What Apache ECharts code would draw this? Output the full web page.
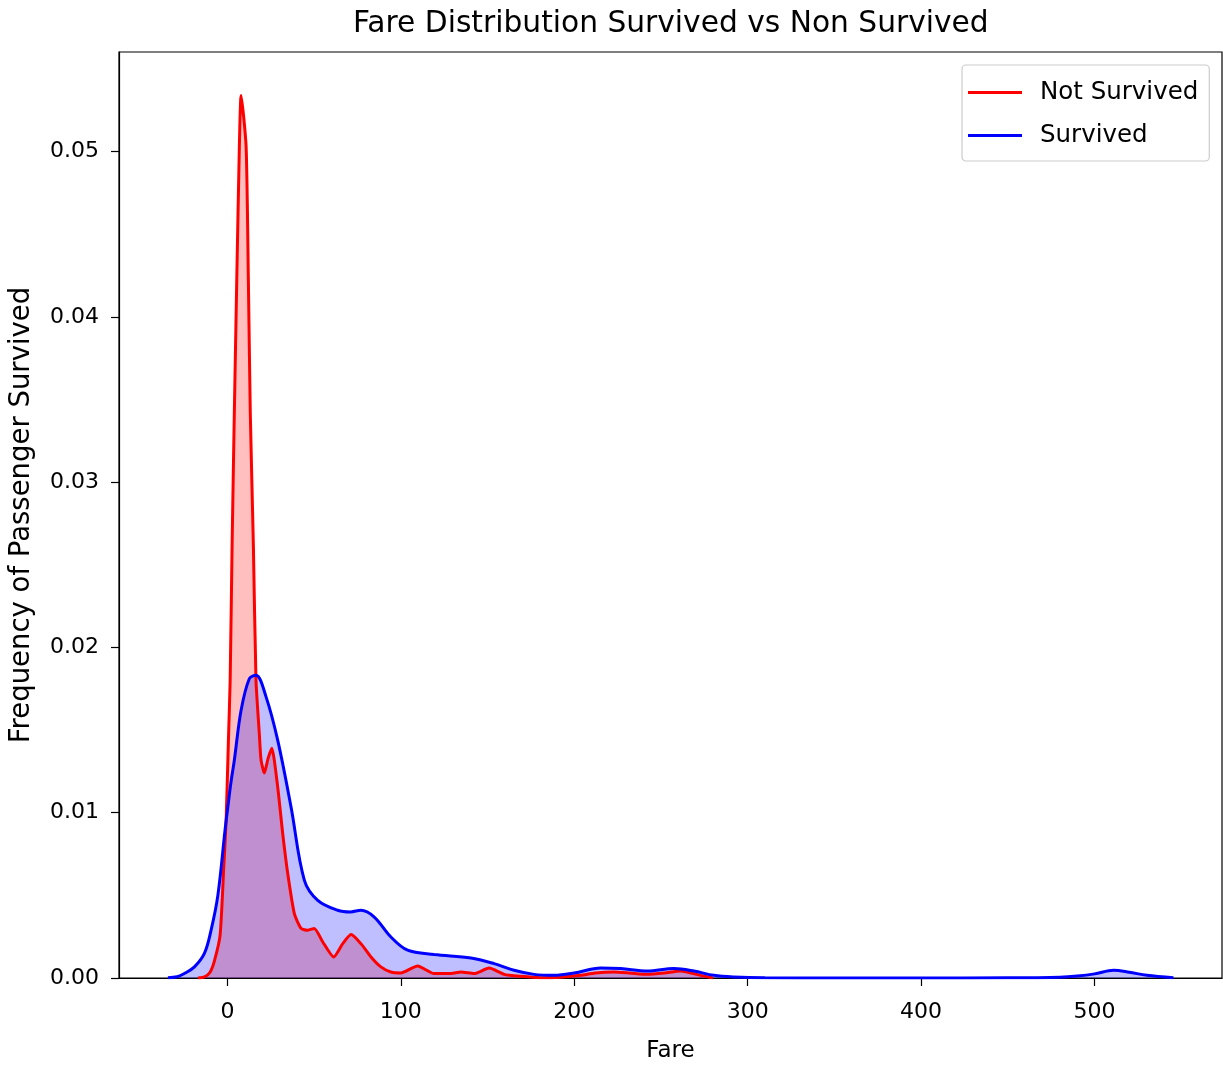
<!DOCTYPE html>
<html>
<head>
<meta charset="utf-8">
<title>Fare Distribution Survived vs Non Survived</title>
<script src="https://cdn.jsdelivr.net/npm/echarts@6/dist/echarts.min.js"></script>
<style>
  html, body { margin: 0; padding: 0; background: #fff; }
  #chart { width: 1223px; height: 1066px; }
</style>
</head>
<body>
<div id="chart"></div>
<script>
// Kernel density estimates of ticket fare, by survival outcome
const fareNotSurvived = [-17, -13.2, -10, -7.4, -4.2, -2.1, -0.75, 0.6, 1.6, 2.7, 4.0, 5.4, 6.9, 7.9,
  10.8, 12.1, 13.2, 15.0, 16.5, 18.4, 19.4, 21.3, 23.5, 25.6, 29.0, 31.9, 34.8, 38.6, 42.5, 46.3,
  50.1, 55.0, 61.3, 66.5, 71.3, 77.0, 82.8, 88.5, 94.3, 100, 109.7, 119.2, 128.9, 134.6, 142.3,
  150.9, 159.6, 169.2, 180.7, 192, 203.7, 212, 222.9, 232, 242.2, 252, 261.3, 272.8, 280];
const densityNotSurvived = [0, 0.00007, 0.00035, 0.00107, 0.0026, 0.0067, 0.0095, 0.0144, 0.0180,
  0.0261, 0.0342, 0.0422, 0.0503, 0.0534, 0.0503, 0.0422, 0.0342, 0.0261, 0.0180, 0.0148, 0.0132,
  0.0124, 0.0133, 0.0139, 0.01156, 0.00874, 0.00632, 0.0039, 0.0030, 0.00289, 0.0030, 0.00218,
  0.00127, 0.00208, 0.00263, 0.00208, 0.00127, 0.00067, 0.00036, 0.0003, 0.00073, 0.00027,
  0.00027, 0.00036, 0.00027, 0.0006, 0.00022, 0.0001, 0.00002, 0.00005, 0.00016, 0.0003,
  0.00036, 0.0003, 0.00022, 0.0003, 0.00042, 0.00016, 0];

const fareSurvived = [-34.3, -29, -24.8, -19.0, -13.2, -9.4, -5.5, -1.3, 0.2, 2.0, 4.0, 7.9, 12.7,
  16.5, 22.3, 29.0, 36.7, 44.4, 52.1, 63.6, 71, 77.0, 84.7, 94.3, 103.9, 119.2, 140.4, 153.8, 165.3,
  176.8, 188.4, 199.9, 215.3, 226.8, 242.2, 257.5, 269.0, 280.5, 292.1, 310, 350, 400, 450, 480,
  490, 500, 511, 520, 530.2, 545.5];
const densitySurvived = [0.00002, 0.00008, 0.00027, 0.00067, 0.0015, 0.0029, 0.0050, 0.0090, 0.0103,
  0.0118, 0.01318, 0.0162, 0.01812, 0.01832, 0.01701, 0.01439, 0.01035, 0.00591, 0.0047, 0.0041,
  0.0040, 0.0041, 0.00369, 0.00248, 0.00168, 0.00142, 0.00121, 0.00087, 0.00047, 0.00022, 0.00016,
  0.0003, 0.00061, 0.00057, 0.00042, 0.00057, 0.00042, 0.00016, 0.00006, 0.00001, 0, 0, 0.00001,
  0.00005, 0.00012, 0.00025, 0.00047, 0.00035, 0.00016, 0.00002];

const xTicks = [0, 100, 200, 300, 400, 500];
const yTicks = [0, 0.01, 0.02, 0.03, 0.04, 0.05];

const seriesNames = ['Not Survived', 'Survived'];
const lineColors = ['#ff0000', '#0000ff'];
const fillColors = ['rgba(255,0,0,0.25)', 'rgba(0,0,255,0.25)'];
const smoothness = [0.2, 0.35];

const toPairs = (xs, ys) => xs.map((x, i) => [x, ys[i]]);

const FONT = 'DejaVu Sans';
const chart = echarts.init(document.getElementById('chart'), null, { renderer: 'canvas' });

const axisCommon = {
  axisLine: { show: true, onZero: false, lineStyle: { color: '#000', width: 1.2 } },
  splitLine: { show: false },
  axisTick: { show: true, length: 8, lineStyle: { color: '#000', width: 1.2 } },
  axisLabel: { color: '#000', fontFamily: FONT, fontSize: 22, margin: 20 }
};

// Shaded area under a density curve (drawn beneath both outlines)
function fillSeries(i, xs, ys) {
  return {
    name: seriesNames[i],
    type: 'line',
    data: toPairs(xs, ys),
    smooth: smoothness[i],
    showSymbol: false,
    color: lineColors[i],
    lineStyle: { width: 0, opacity: 0 },
    areaStyle: { color: fillColors[i], opacity: 1, origin: 'start' },
    silent: true,
    z: 2 + i
  };
}

// Outline of a density curve
function lineSeries(i, xs, ys) {
  return {
    name: seriesNames[i],
    type: 'line',
    data: toPairs(xs, ys),
    smooth: smoothness[i],
    showSymbol: false,
    color: lineColors[i],
    lineStyle: { color: lineColors[i], width: 3 },
    z: 4 + i
  };
}

chart.setOption({
  backgroundColor: '#fff',
  animation: false,
  title: {
    text: 'Fare Distribution Survived vs Non Survived',
    left: 353,
    top: 9,
    padding: 0,
    textStyle: { color: '#000', fontFamily: FONT, fontSize: 29.7, fontWeight: 'normal' }
  },
  legend: {
    data: seriesNames.map((n, i) => ({ name: n, itemStyle: { color: lineColors[i] } })),
    orient: 'vertical',
    left: 962,
    top: 65,
    icon: 'rect',
    itemWidth: 54,
    itemHeight: 3,
    itemGap: 18,
    padding: [15, 11, 13, 6],
    backgroundColor: 'rgba(255,255,255,0.8)',
    borderColor: '#cccccc',
    borderWidth: 1.2,
    borderRadius: 4,
    textStyle: { color: '#000', fontFamily: FONT, fontSize: 24.5, lineHeight: 22, padding: [0, 0, 0, 13] }
  },
  grid: {
    left: 119, right: 1, top: 52, bottom: 88,
    show: true, borderColor: '#000', borderWidth: 1.2,
    containLabel: false, outerBoundsMode: 'none'
  },
  xAxis: Object.assign({}, axisCommon, {
    type: 'value',
    min: -62.5,
    max: 573.5,
    name: 'Fare',
    nameLocation: 'middle',
    nameGap: 62,
    nameTextStyle: { color: '#000', fontFamily: FONT, fontSize: 23 },
    axisTick: Object.assign({}, axisCommon.axisTick, { customValues: xTicks }),
    axisLabel: Object.assign({}, axisCommon.axisLabel, { customValues: xTicks, margin: 23 })
  }),
  yAxis: Object.assign({}, axisCommon, {
    type: 'value',
    min: 0,
    max: 0.05603,
    name: 'Frequency of Passenger Survived',
    nameLocation: 'middle',
    nameRotate: 90,
    nameGap: 83,
    nameTextStyle: { color: '#000', fontFamily: FONT, fontSize: 27.5 },
    axisTick: Object.assign({}, axisCommon.axisTick, { customValues: yTicks }),
    axisLabel: Object.assign({}, axisCommon.axisLabel, {
      customValues: yTicks,
      formatter: v => v.toFixed(2)
    })
  }),
  series: [
    fillSeries(0, fareNotSurvived, densityNotSurvived),
    fillSeries(1, fareSurvived, densitySurvived),
    lineSeries(0, fareNotSurvived, densityNotSurvived),
    lineSeries(1, fareSurvived, densitySurvived)
  ]
});
</script>
</body>
</html>
